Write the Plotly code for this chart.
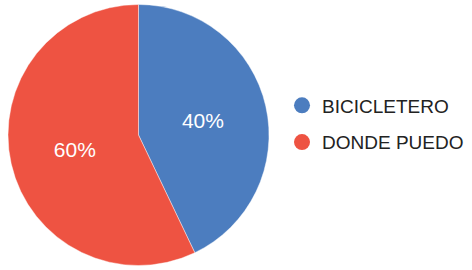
import plotly.graph_objects as go

categories = ["BICICLETERO", "DONDE PUEDO"]
values = [42.9, 57.1]
slice_labels = ["40%", "60%"]
colors = ["#4C7DBF", "#EE5342"]

W, H = 472, 270
fig = go.Figure()
fig.add_trace(go.Pie(
    labels=categories,
    values=values,
    text=slice_labels,
    textinfo="text",
    texttemplate="%{text}",
    textposition="inside",
    insidetextorientation="horizontal",
    insidetextfont=dict(color="white", size=21, family="Liberation Sans, Arial"),
    marker=dict(colors=colors, line=dict(color="rgba(255,255,255,0.6)", width=0.7)),
    sort=False,
    direction="clockwise",
    rotation=0,
    showlegend=False,
    hoverinfo="label+percent",
    domain=dict(x=[8 / W, 269 / W], y=[4 / H, 266 / H]),
))
for i, (cat, col) in enumerate(zip(categories, colors)):
    fig.add_trace(go.Scatter(
        x=[None], y=[None], mode="markers", name=cat,
        marker=dict(color=col, size=16, symbol="circle"),
        showlegend=True, legendgroup=f"g{i}",
    ))

fig.update_layout(
    width=W, height=H,
    margin=dict(l=0, r=0, t=0, b=0),
    paper_bgcolor="white", plot_bgcolor="white",
    xaxis=dict(visible=False), yaxis=dict(visible=False),
    font=dict(family="Liberation Sans, Arial", color="#222222"),
    legend=dict(
        x=282 / W, y=1 - 124 / H, xanchor="left", yanchor="middle",
        font=dict(size=19, color="#222222"),
        itemsizing="trace",
        tracegroupgap=9,
        bgcolor="rgba(0,0,0,0)",
    ),
    showlegend=True,
)
fig.write_html(
    "out.html",
    config={"displayModeBar": False},
    post_script="document.body.style.margin='0';document.body.style.overflow='hidden';",
)
